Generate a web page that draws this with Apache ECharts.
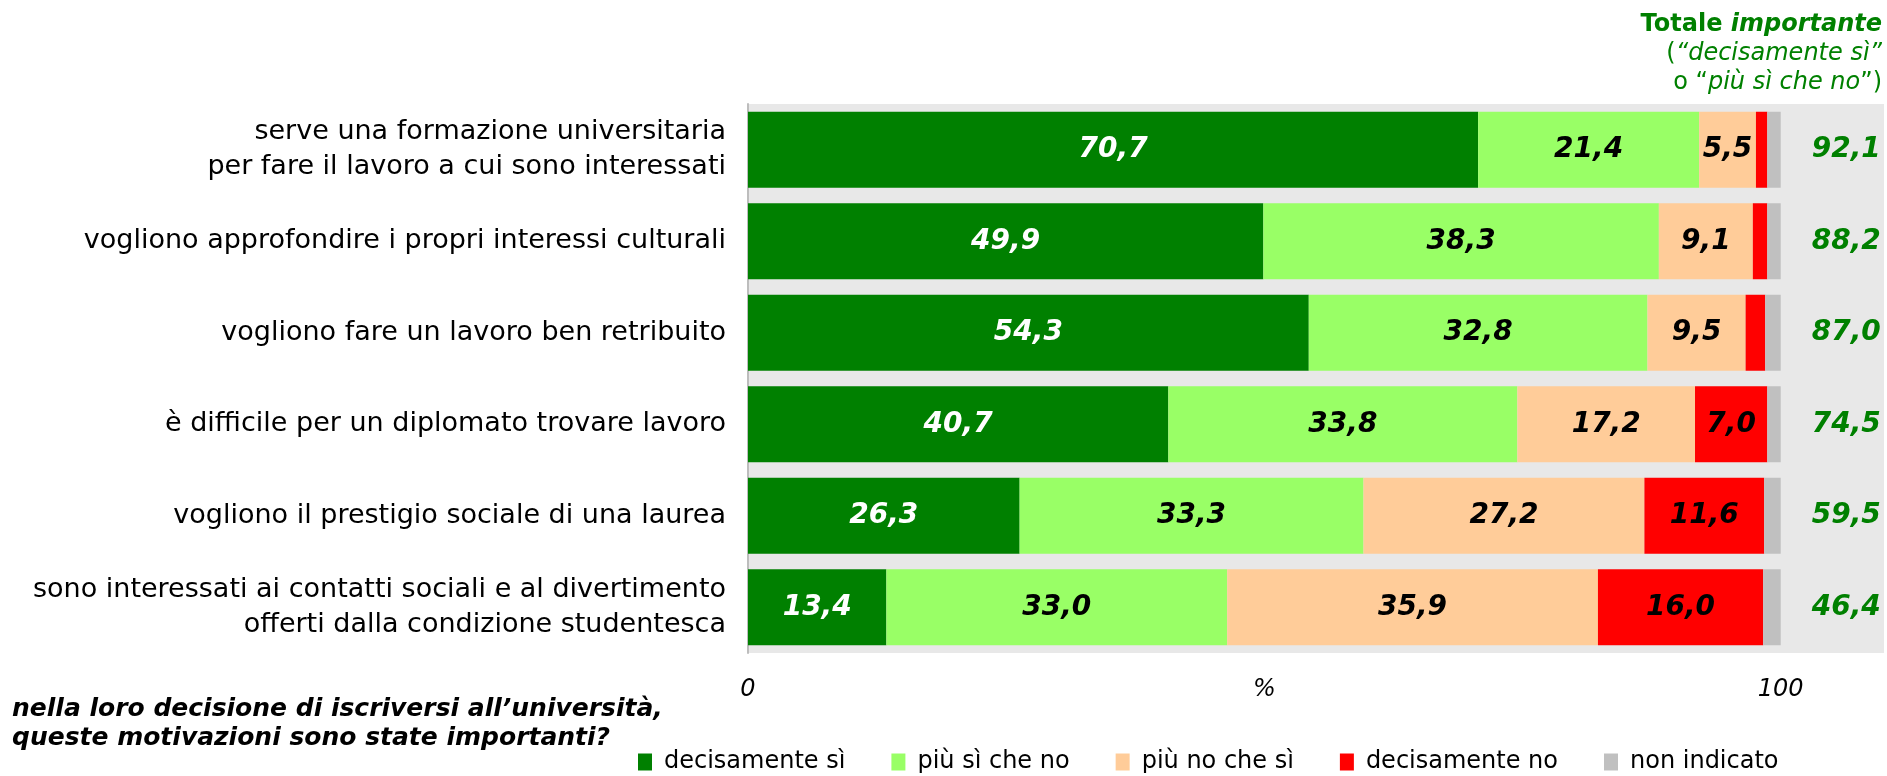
<!DOCTYPE html>
<html>
<head>
<meta charset="utf-8">
<script src="https://cdn.jsdelivr.net/npm/echarts@6/dist/echarts.min.js"></script>
<style>
  html, body { margin: 0; padding: 0; background: #fff; }
  #chart { width: 1887px; height: 776px; }
</style>
</head>
<body>
<div id="chart"></div>
<script>
const categories = [
  'serve una formazione universitaria\nper fare il lavoro a cui sono interessati',
  'vogliono approfondire i propri interessi culturali',
  'vogliono fare un lavoro ben retribuito',
  'è difficile per un diplomato trovare lavoro',
  'vogliono il prestigio sociale di una laurea',
  'sono interessati ai contatti sociali e al divertimento\nofferti dalla condizione studentesca'
];
const seriesNames = ['decisamente sì', 'più sì che no', 'più no che sì', 'decisamente no', 'non indicato'];
const decisamenteSi = [70.7, 49.9, 54.3, 40.7, 26.3, 13.4];
const piuSiCheNo    = [21.4, 38.3, 32.8, 33.8, 33.3, 33.0];
const piuNoCheSi    = [5.5, 9.1, 9.5, 17.2, 27.2, 35.9];
const decisamenteNo = [1.1, 1.4, 1.9, 7.0, 11.6, 16.0];
const nonIndicato   = [1.3, 1.3, 1.5, 1.3, 1.6, 1.7];
const totaleImportante = [92.1, 88.2, 87.0, 74.5, 59.5, 46.4];
const tickLabels = { 0: '0', 50: '%', 100: '100' };

const FONT = 'DejaVu Sans';
const GREEN = '#008000';
const colors = ['#008000', '#99FF66', '#FFCC99', '#FF0000', '#C0C0C0'];
const labelColors = ['#FFFFFF', '#000000', '#000000', '#000000', '#000000'];
const fmt = v => v.toFixed(1).replace('.', ',');
const values = [decisamenteSi, piuSiCheNo, piuNoCheSi, decisamenteNo, nonIndicato];

const series = values.map((arr, k) => ({
  name: seriesNames[k],
  type: 'bar',
  stack: 'tot',
  data: arr,
  barCategoryGap: '17%',
  itemStyle: { color: colors[k] },
  label: k === 4 ? {
    show: true,
    position: 'right',
    distance: 31,
    formatter: p => fmt(totaleImportante[p.dataIndex]),
    fontFamily: FONT, fontSize: 28, fontWeight: 'bold', fontStyle: 'italic',
    color: GREEN
  } : {
    show: true,
    position: 'inside',
    formatter: p => (p.value >= 5 ? fmt(p.value) : ''),
    fontFamily: FONT, fontSize: 28, fontWeight: 'bold', fontStyle: 'italic',
    color: labelColors[k]
  }
}));

const richHeader = {
  b:  { fontFamily: FONT, fontSize: 24, fontWeight: 'bold', fill: GREEN },
  bi: { fontFamily: FONT, fontSize: 24, fontWeight: 'bold', fontStyle: 'italic', fill: GREEN },
  n:  { fontFamily: FONT, fontSize: 24, fill: GREEN },
  i:  { fontFamily: FONT, fontSize: 24, fontStyle: 'italic', fill: GREEN }
};
const headerLines = [
  '{b|Totale }{bi|importante}',
  '{n|(}{i|“decisamente sì”}',
  '{n|o “}{i|più sì che no}{n|”)}'
];
const headerY = [25, 54, 83];

const chart = echarts.init(document.getElementById('chart'), null, { renderer: 'canvas' });
chart.setOption({
  animation: false,
  backgroundColor: '#ffffff',
  grid: {
    left: 748, right: 2, top: 104, bottom: 123,
    show: true, backgroundColor: '#E8E8E8', borderWidth: 0,
    containLabel: false
  },
  xAxis: {
    type: 'value', min: 0, max: 110, interval: 50,
    axisLine: { show: false }, axisTick: { show: false }, splitLine: { show: false },
    axisLabel: {
      formatter: v => (tickLabels[v] !== undefined ? tickLabels[v] : ''),
      fontFamily: FONT, fontSize: 24, fontStyle: 'italic', color: '#000', margin: 25
    }
  },
  yAxis: {
    type: 'category', inverse: true, data: categories,
    axisLine: { show: true, lineStyle: { color: '#BDBDBD', width: 2 } },
    axisTick: { show: false },
    axisLabel: {
      fontFamily: FONT, fontSize: 27, color: '#000', lineHeight: 35, margin: 22
    }
  },
  legend: {
    data: seriesNames,
    left: 638, top: 750, padding: 0,
    itemWidth: 14, itemHeight: 17, itemGap: 46,
    icon: 'rect',
    textStyle: { fontFamily: FONT, fontSize: 24, color: '#000', padding: [0, 0, 0, 7] }
  },
  graphic: headerLines.map((t, j) => ({
    type: 'text', x: 1882, y: headerY[j],
    style: { text: t, rich: richHeader, align: 'right', verticalAlign: 'middle' }
  })).concat([
    {
      type: 'text', left: 12, top: 695,
      style: {
        text: 'nella loro decisione di iscriversi all’università,\nqueste motivazioni sono state importanti?',
        fontFamily: FONT, fontSize: 25, fontWeight: 'bold', fontStyle: 'italic',
        fill: '#000', lineHeight: 29
      }
    }
  ]),
  series: series
});
</script>
</body>
</html>
